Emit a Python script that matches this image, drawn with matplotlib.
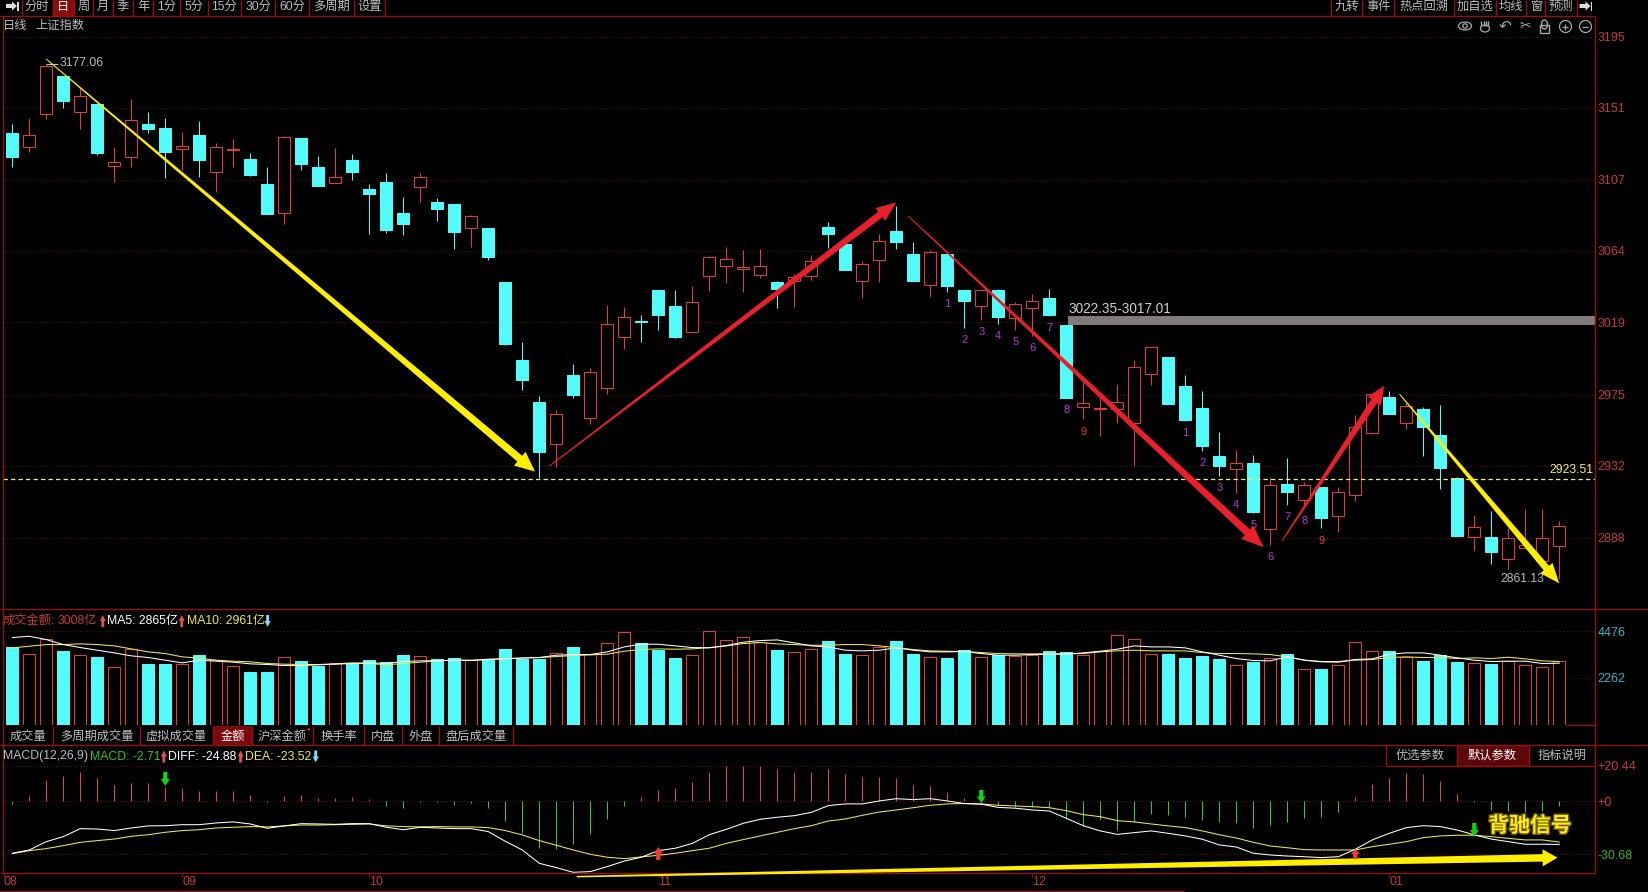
import matplotlib
matplotlib.use('Agg')
import matplotlib.pyplot as plt
import matplotlib.patheffects as pe
from matplotlib.patches import Polygon, Rectangle, Circle, Ellipse
import numpy as np

plt.rcParams['font.family'] = ['Liberation Sans', 'Noto Sans CJK SC', 'DejaVu Sans']

# daily candles
opens = [3135.8, 3127.6, 3147.8, 3170.9, 3149.1, 3153.7, 3116.0, 3121.5, 3141.5, 3139.0, 3126.2, 3134.8,
         3112.3, 3125.8, 3120.0, 3104.7, 3086.8, 3132.9, 3115.1, 3105.3, 3119.4, 3101.7, 3106.0, 3087.0,
         3103.1, 3093.7, 3092.5, 3077.8, 3077.8, 3044.7, 2996.9, 2971.1, 2945.6, 2987.7, 2961.3, 2979.7,
         3011.0, 3020.8, 3039.8, 3030.0, 3014.1, 3048.4, 3054.5, 3052.6, 3049.0, 3044.7, 3045.3, 3048.4,
         3078.4, 3068.0, 3045.3, 3058.2, 3075.9, 3061.8, 3042.8, 3061.8, 3039.8, 3030.0, 3039.8, 3022.6,
         3028.7, 3034.9, 3018.3, 2968.1, 2966.9, 2967.1, 2958.1, 2988.1, 2998.7, 2981.0, 2967.5, 2938.1,
         2930.3, 2933.8, 2893.3, 2920.9, 2911.1, 2919.1, 2901.5, 2914.4, 2952.4, 2974.2, 2958.3, 2966.9,
         2950.9, 2924.6, 2888.4, 2888.4, 2875.1, 2881.7, 2873.9, 2883.1]
closes = [3121.5, 3134.5, 3177.0, 3155.8, 3158.9, 3123.7, 3118.0, 3143.7, 3138.4, 3124.3, 3128.0, 3119.4,
          3127.4, 3126.2, 3110.2, 3086.3, 3133.5, 3117.0, 3103.5, 3108.8, 3112.1, 3098.6, 3076.5, 3080.2,
          3108.8, 3089.4, 3075.3, 3084.9, 3060.0, 3006.7, 2984.6, 2940.5, 2963.8, 2975.4, 2989.3, 3018.9,
          3023.2, 3020.2, 3024.5, 3011.0, 3032.4, 3060.0, 3058.8, 3053.9, 3054.5, 3040.4, 3047.5, 3057.5,
          3074.1, 3052.0, 3055.7, 3069.8, 3069.2, 3045.3, 3063.1, 3042.2, 3033.0, 3039.6, 3023.2, 3031.0,
          3032.8, 3024.5, 2973.6, 2970.3, 2967.3, 2971.1, 2992.4, 3004.6, 2969.9, 2960.1, 2944.2, 2932.0,
          2933.6, 2903.8, 2920.1, 2916.0, 2920.1, 2900.1, 2915.8, 2955.6, 2975.8, 2963.8, 2968.5, 2955.8,
          2930.7, 2889.0, 2894.4, 2879.2, 2887.6, 2883.5, 2887.6, 2895.0]
highs = [3141.5, 3145.4, 3178.1, 3170.9, 3163.3, 3153.7, 3127.6, 3157.0, 3148.8, 3145.2, 3136.6, 3143.3,
         3129.6, 3132.3, 3123.5, 3115.1, 3134.1, 3132.9, 3121.9, 3126.8, 3123.1, 3104.7, 3111.5, 3096.8,
         3111.5, 3096.1, 3092.5, 3085.7, 3077.8, 3044.7, 3007.9, 2974.8, 2966.2, 2994.4, 2992.0, 3030.4,
         3029.4, 3024.5, 3039.8, 3039.8, 3042.2, 3060.6, 3066.3, 3064.3, 3064.9, 3045.3, 3049.6, 3061.2,
         3081.4, 3068.0, 3057.5, 3074.1, 3091.2, 3069.2, 3064.3, 3061.8, 3039.8, 3040.4, 3040.4, 3032.4,
         3037.3, 3040.4, 3018.3, 2983.6, 2974.4, 2982.2, 2996.9, 3004.9, 2998.7, 2987.7, 2977.9, 2952.8,
         2941.7, 2938.7, 2925.4, 2936.8, 2922.1, 2919.1, 2919.1, 2963.2, 2976.0, 2977.9, 2970.3, 2967.9,
         2969.3, 2925.4, 2901.9, 2904.4, 2893.7, 2905.6, 2905.6, 2898.2]
lows = [3115.3, 3124.3, 3144.8, 3151.5, 3138.4, 3122.5, 3106.0, 3115.3, 3136.0, 3108.4, 3113.3, 3109.0,
        3099.8, 3115.3, 3109.8, 3086.3, 3080.2, 3113.3, 3103.5, 3105.3, 3107.2, 3074.1, 3074.7, 3073.5,
        3093.7, 3082.1, 3064.9, 3066.1, 3058.2, 3006.1, 2978.5, 2924.6, 2931.1, 2973.6, 2957.7, 2976.0,
        3003.6, 3007.9, 3015.3, 3010.4, 3014.1, 3039.2, 3044.1, 3038.6, 3047.1, 3028.7, 3029.4, 3045.9,
        3065.5, 3052.0, 3034.9, 3044.7, 3064.9, 3045.3, 3035.5, 3038.6, 3016.5, 3021.4, 3018.9, 3015.3,
        3011.6, 3023.8, 2973.6, 2960.7, 2950.3, 2958.1, 2931.9, 2981.6, 2969.9, 2959.5, 2941.3, 2925.8,
        2915.4, 2903.1, 2883.5, 2908.0, 2908.0, 2894.0, 2891.5, 2910.5, 2951.5, 2963.8, 2954.4, 2938.1,
        2917.8, 2889.0, 2879.8, 2871.9, 2868.8, 2881.7, 2873.9, 2862.5]

# turnover, 亿
volume = [3705, 3404, 4116, 3514, 3324, 3229, 2739, 3609, 2897, 2897, 2897, 3324, 3103, 2786, 2517, 2517,
          3261, 3039, 2802, 2976, 2976, 3087, 2992, 3324, 3309, 3166, 3213, 3087, 3134, 3609, 3134, 3134,
          3451, 3705, 3404, 3926, 4448, 3926, 3562, 3182, 3356, 4496, 4068, 4211, 3942, 3562, 3499, 3641,
          3989, 3372, 3356, 3736, 3989, 3372, 3229, 3182, 3562, 3229, 3324, 3277, 3356, 3514, 3467, 3340,
          3530, 4306, 4116, 3404, 3372, 3182, 3277, 3134, 2881, 2992, 3213, 3372, 2644, 2660, 2834, 3974,
          3546, 3514, 3229, 3039, 3324, 2992, 2976, 2897, 3071, 2881, 2739, 3040]
ma5 = [4163, 4227, 4068, 3831, 3688, 3562, 3435, 3293, 3213, 3087, 2960, 3087, 3039, 2992, 2913, 2881,
       2834, 2834, 2865, 2897, 2929, 2960, 2929, 3024, 3055, 3055, 3087, 3071, 3119, 3150, 3182, 3213,
       3324, 3356, 3356, 3483, 3720, 3847, 3847, 3768, 3688, 3673, 3783, 3942, 4021, 4052, 3910, 3768,
       3720, 3562, 3530, 3562, 3673, 3562, 3483, 3483, 3498, 3403, 3324, 3324, 3356, 3372, 3372, 3435,
       3514, 3609, 3768, 3720, 3720, 3673, 3483, 3324, 3166, 3071, 3055, 3245, 3087, 3008, 2992, 3119,
       3150, 3372, 3435, 3435, 3324, 3198, 3087, 3024, 3039, 3039, 2929, 2944]
ma10 = [3673, 3752, 3831, 3831, 3863, 3831, 3768, 3625, 3483, 3403, 3245, 3182, 3087, 3039, 3008, 2929,
        2897, 2881, 2881, 2913, 2960, 2929, 2865, 2929, 2992, 3055, 3087, 3087, 3134, 3166, 3198, 3213,
        3261, 3308, 3340, 3372, 3514, 3593, 3625, 3609, 3625, 3688, 3768, 3878, 3926, 3863, 3831, 3799,
        3799, 3831, 3831, 3768, 3688, 3593, 3530, 3514, 3498, 3451, 3403, 3388, 3388, 3388, 3388, 3403,
        3483, 3530, 3562, 3530, 3530, 3530, 3451, 3403, 3403, 3388, 3356, 3245, 3087, 3024, 3024, 3087,
        3119, 3213, 3245, 3213, 3213, 3166, 3198, 3166, 3229, 3150, 3055, 3024]

# MACD(12,26,9)
macd_hist = [-1.7, 3.1, 12.3, 14.6, 16.7, 13.3, 9.2, 10.6, 10.6, 8.5, 7.7, 6.0, 6.0, 6.2, 3.5, -0.3,
             3.1, 3.5, 1.9, 1.9, 2.5, 1.2, -2.7, -3.9, -0.3, -0.3, -1.9, -1.2, -3.9, -11.6, -18.3, -27.0,
             -27.5, -24.6, -18.9, -10.2, -2.7, 2.7, 6.5, 7.7, 11.4, 16.9, 20.4, 20.4, 20.4, 18.7, 16.9, 16.9,
             18.7, 16.0, 14.1, 14.1, 13.5, 9.4, 8.9, 5.4, 2.1, -0.4, -2.1, -3.3, -3.3, -4.0, -10.2, -14.2,
             -10.8, -16.6, -11.9, -7.3, -7.9, -9.0, -10.8, -11.9, -12.5, -15.4, -13.7, -11.9, -9.6, -9.0, -6.2, 2.5,
             10.0, 13.5, 16.4, 15.8, 11.7, 4.2, -0.4, -5.0, -5.6, -6.2, -5.6, -2.71]
diff = [-30.0, -28.1, -23.3, -20.4, -15.8, -16.0, -16.9, -15.4, -14.2, -14.1, -13.5, -13.5, -12.5, -11.9, -13.1, -15.6,
        -14.2, -12.9, -13.1, -13.3, -12.9, -12.9, -15.0, -16.4, -15.0, -15.4, -15.8, -15.8, -17.5, -23.1, -28.1, -35.8,
        -38.3, -41.0, -40.6, -37.7, -34.5, -32.3, -28.5, -27.1, -24.3, -19.3, -16.2, -12.7, -10.4, -9.2, -8.3, -6.4,
        -2.5, -1.5, -1.5, 0.2, 1.5, 1.0, 1.5, 0.2, -1.3, -1.7, -3.5, -4.0, -5.0, -5.6, -9.8, -14.1,
        -17.1, -19.1, -18.1, -17.1, -18.5, -20.0, -21.9, -25.2, -26.4, -30.0, -31.0, -31.6, -32.0, -32.5, -32.0, -27.7,
        -22.3, -18.5, -15.2, -14.1, -14.6, -16.6, -19.4, -21.8, -23.3, -24.8, -24.8, -24.88]
dea = [-30.2, -28.5, -27.3, -25.6, -23.7, -22.7, -21.8, -20.2, -19.3, -17.9, -16.9, -16.4, -15.4, -15.0, -14.6, -14.8,
       -14.2, -13.7, -13.7, -13.5, -13.3, -13.1, -14.2, -14.6, -14.8, -14.6, -14.8, -14.8, -15.2, -16.9, -19.4, -22.7,
       -25.4, -28.1, -30.6, -32.3, -33.1, -32.1, -31.2, -30.0, -28.5, -27.1, -24.3, -22.1, -20.0, -17.9, -15.8, -14.1,
       -11.4, -10.2, -8.1, -6.2, -5.0, -3.7, -2.3, -1.5, -1.3, -1.5, -2.3, -2.7, -3.1, -3.7, -5.4, -7.7,
       -8.9, -11.2, -11.9, -13.1, -14.2, -15.2, -17.1, -19.3, -21.2, -23.7, -25.8, -26.8, -27.9, -28.1, -28.1, -28.1,
       -26.2, -24.8, -23.3, -21.0, -20.0, -19.6, -19.6, -20.4, -21.4, -22.3, -22.3, -23.52]

# axis ticks
price_ticks = [3195.0, 3151.5, 3107.4, 3063.9, 3020.0, 2975.7, 2932.1, 2888.0]
price_labels = ['3195', '3151', '3107', '3064', '3019', '2975', '2932', '2888']
vol_ticks = [4476, 2262]
macd_ticks = [20.44, 0, -30.68]
macd_labels = ['+20.44', '+0', '-30.68']
month_bars = [-0.5, 10, 21, 38, 60, 81]
month_labels = ['08', '09', '10', '11', '12', '01']

# TD sequence counts under the candles: bar, price, text
td_bars = [55, 56, 57, 58, 59, 60, 61, 62, 63, 69, 70, 71, 72, 73, 74, 75, 76, 77]
td_prices = [3031.2, 3009.1, 3014.0, 3011.6, 3007.9, 3004.2, 3016.5, 2966.2, 2952.6,
             2952.0, 2933.8, 2918.4, 2908.0, 2895.8, 2876.2, 2900.7, 2898.2, 2885.8]
td_labels = ['1', '2', '3', '4', '5', '6', '7', '8', '9', '1', '2', '3', '4', '5', '6', '7', '8', '9']

CYAN = '#54fbfb'
RED = '#e03c3c'
GRID = '#5c1010'
FRAME = '#960f14'
GREY = '#bdbdbd'
W, H = 1648, 892
LW = 0.75

fig = plt.figure(figsize=(W / 100, H / 100), dpi=100, facecolor='black')


def panel(top, bottom, ylim):
    ax = fig.add_axes([3 / W, (H - bottom) / H, 1592 / W, (bottom - top) / H], facecolor='black')
    ax.set_xlim(-0.547, 93.1)
    ax.set_ylim(*ylim)
    for s in ax.spines.values():
        s.set_visible(False)
    ax.set_xticks([])
    ax.yaxis.tick_right()
    ax.tick_params(axis='y', length=0, pad=2, labelsize=9)
    ax.grid(axis='y', linestyle=(0, (1, 2)), color=GRID, linewidth=0.8)
    ax.set_axisbelow(True)
    return ax


x = np.arange(len(opens))
up = np.array(closes) >= np.array(opens)
colors = [RED if u else CYAN for u in up]

# candles
ax = panel(16, 609.3, (2844.1, 3207.7))
ax.vlines(x, lows, highs, colors=colors, linewidth=LW, zorder=2)
body_low = np.minimum(opens, closes)
body_h = np.abs(np.array(closes) - np.array(opens))
ax.bar(x, body_h, bottom=body_low, width=0.72, color=['black' if u else CYAN for u in up],
       edgecolor=colors, linewidth=LW, zorder=3)
ax.set_yticks(price_ticks, price_labels, color='#c23a3a')
ax.axhline(2923.8, color='#f4f06a', linewidth=0.9, linestyle=(0, (3.5, 2.5)), zorder=4)
ax.axhspan(3018.3, 3023.8, xmin=(62.1 + 0.547) / 93.647, color='#7f7b7b', linewidth=0, zorder=1)
for b, p, t in zip(td_bars, td_prices, td_labels):
    ax.text(b, p, t, color='#ee3340' if t == '9' else '#bb33dd', fontsize=8, ha='center', va='center', zorder=6)

# turnover
ax2 = panel(609.3, 725, (0, 5510))
ax2.bar(x, volume, width=0.72, color=['black' if u else CYAN for u in up], edgecolor=colors, linewidth=LW, zorder=3)
ax2.plot(x, ma10, color='#efe94a', linewidth=LW, zorder=4)
ax2.plot(x, ma5, color='white', linewidth=LW, zorder=5)
ax2.set_yticks(vol_ticks, [str(v) for v in vol_ticks], color='#37b6c6')

# MACD
ax3 = panel(745, 873, (-41.4, 32.5))
ax3.vlines(x, 0, macd_hist, colors=['#e04848' if m > 0 else '#2fc82f' for m in macd_hist], linewidth=LW, zorder=2)
ax3.plot(x, dea, color='#efe94a', linewidth=LW, zorder=4)
ax3.plot(x, diff, color='white', linewidth=LW, zorder=5)
ax3.set_yticks(macd_ticks, macd_labels)
for lab, c in zip(ax3.get_yticklabels(), ['#c23a3a', '#c23a3a', '#2fb52f']):
    lab.set_color(c)
ax3.set_xticks(month_bars, month_labels, color='#c23a3a', fontsize=9, ha='left')
ax3.tick_params(axis='x', length=3, width=0.8, color=FRAME, pad=-1)

# pixel overlay for the terminal chrome and the hand drawn arrows
ov = fig.add_axes([0, 0, 1, 1], facecolor='none', zorder=10)
ov.set_xlim(0, W)
ov.set_ylim(H, 0)
ov.axis('off')


def to_px(a, bar, val):
    return ov.transData.inverted().transform(a.transData.transform((bar, val)))


def taper_arrow(a, start, end, w0, w1, head_w, head_l, color):
    p0, p1 = to_px(a, *start), to_px(a, *end)
    u = (p1 - p0) / np.hypot(*(p1 - p0))
    v = np.array([-u[1], u[0]])
    neck = p1 - u * head_l
    pts = [p0 + v * w0 / 2, neck + v * w1 / 2, neck + v * head_w / 2, p1,
           neck - v * head_w / 2, neck - v * w1 / 2, p0 - v * w0 / 2]
    ov.add_patch(Polygon(pts, closed=True, facecolor=color, edgecolor='none', zorder=8))


def mini_arrow(cx, top, bottom, width, color):
    # small block arrow; tip is at "bottom"
    sgn = 1 if bottom > top else -1
    neck = bottom - sgn * abs(bottom - top) * 0.5
    s = width * 0.24
    ov.add_patch(Polygon([(cx - s, top), (cx + s, top), (cx + s, neck), (cx + width / 2, neck), (cx, bottom),
                          (cx - width / 2, neck), (cx - s, neck)], closed=True, facecolor=color,
                         edgecolor='none', zorder=9))


taper_arrow(ax, (2.0, 3181.3), (30.75, 2928.5), 1, 7.5, 18, 20, '#ffee00')
taper_arrow(ax, (31.6, 2931.9), (52.0, 3093.5), 1, 7, 16, 20, '#e8202c')
taper_arrow(ax, (52.7, 3085.1), (73.6, 2882.1), 1, 7.5, 18, 22, '#e8202c')
taper_arrow(ax, (74.7, 2886.2), (80.7, 2981.0), 1, 7, 16, 18, '#e8202c')
taper_arrow(ax, (81.6, 2976.0), (91.0, 2860.0), 1, 7, 16, 20, '#ffee00')
taper_arrow(ax3, (33.2, -43.5), (90.9, -32.5), 1.5, 7.5, 17, 15, '#ffee00')

# signal arrows in the MACD panel
for bar, top, bottom in [(9, 772, 786), (57, 790, 803), (86, 823, 837)]:
    mini_arrow(to_px(ax3, bar, 0)[0], top, bottom, 9, '#12d012')
for bar, top, bottom in [(38, 860, 847), (79, 859, 849)]:
    mini_arrow(to_px(ax3, bar, 0)[0], top, bottom, 9, '#f03a3a')


def line(x0, y0, x1, y1, c=FRAME, lw=1.0):
    ov.plot([x0, x1], [y0, y1], color=c, linewidth=lw, zorder=7, solid_capstyle='butt')


def label(px, py, s, c=GREY, size=8.8, ha='center', **kw):
    ov.text(px, py, s, color=c, fontsize=size, ha=ha, va='center', zorder=9, **kw)


# frame
line(0, 15.5, 1595, 15.5)
line(3, 15.5, 3, 873)
line(1595, 15.5, 1595, 873)
line(0, 609.3, W, 609.3)
line(1566, 725, 1595, 725)
line(0, 745, W, 745)
line(0, 873, 1595, 873)
line(0, 890.5, 1184, 890.5)

# top toolbars
tool_div = [21.7, 52.6, 73.7, 93.3, 112.9, 133.3, 153.3, 179.9, 207.6, 241.3, 275.3, 309.4, 353.6, 385.1]
tool_names = ['分时', '日', '周', '月', '季', '年', '1分', '5分', '15分', '30分', '60分', '多周期', '设置']
for d in tool_div:
    line(d, 0, d, 15.5)
ov.add_patch(Rectangle((52.6, 0), 21.1, 15.5, facecolor='#8c0c0c', edgecolor='none', zorder=6))
for a0, a1, s in zip(tool_div[:-1], tool_div[1:], tool_names):
    label((a0 + a1) / 2, 7, s, c='white' if s == '日' else GREY)

right_div = [1331.4, 1362.1, 1394.3, 1453.7, 1495.7, 1526.4, 1545.3, 1576.8]
right_names = ['九转', '事件', '热点回溯', '加自选', '均线', '窗', '预测']
for d in right_div:
    line(d, 0, d, 15.5)
for a0, a1, s in zip(right_div[:-1], right_div[1:], right_names):
    label((a0 + a1) / 2, 7, s)

for x0 in (6, 1579.5):
    ov.add_patch(Polygon([(x0, 4), (x0 + 6, 4), (x0 + 6, 1.5), (x0 + 11, 6), (x0 + 6, 10.5), (x0 + 6, 8), (x0, 8)],
                         closed=True, facecolor='#dddddd', edgecolor='none', zorder=9))
    ov.add_patch(Rectangle((x0 + 11.3, 1.5), 1.5, 9, facecolor='#dddddd', edgecolor='none', zorder=9))

label(3, 26, '日线', ha='left')
label(35, 26, '上证指数', ha='left')

# toolbox icons
ICON = '#a8a8a8'
ov.add_patch(Ellipse((1465, 26), 13, 8, fill=False, edgecolor=ICON, linewidth=0.9, zorder=9))
ov.add_patch(Circle((1465, 26), 2.2, fill=False, edgecolor=ICON, linewidth=0.9, zorder=9))
for i in range(4):
    line(1481.5 + i * 2.2, 26, 1481.5 + i * 2.2, 20.5, ICON, 1.0)
ov.add_patch(Ellipse((1485, 28.5), 9, 7, fill=False, edgecolor=ICON, linewidth=0.9, zorder=9))
label(1505, 26, '↶', c=ICON, size=11, family='DejaVu Sans')
label(1525, 26, '✂', c=ICON, size=10, family='DejaVu Sans')
ov.add_patch(Rectangle((1540, 25), 9, 7.5, fill=False, edgecolor=ICON, linewidth=1, zorder=9))
ov.add_patch(Ellipse((1544.5, 24.5), 6, 9, fill=False, edgecolor=ICON, linewidth=1, zorder=9))
for cx in (1565.5, 1585.5):
    ov.add_patch(Circle((cx, 26.5), 6, fill=False, edgecolor=ICON, linewidth=0.9, zorder=9))
    line(cx - 3, 26.5, cx + 3, 26.5, ICON, 0.9)
line(1565.5, 23.5, 1565.5, 29.5, ICON, 0.9)

# price labels
label(60, 63, '3177.06', ha='left')
line(46, 64, 58, 64, '#bdbdbd', 0.8)
label(1069, 309, '3022.35-3017.01', c='#d0d0d0', size=9.8, ha='left')
label(1593, 470, '2923.51', c='#f4f06a', ha='right')
label(1500, 579, '2861.13', ha='left')

# turnover header
label(3, 621, '成交金额:', c='#c93a3a', ha='left')
label(58, 621, '3008亿', c='#c93a3a', ha='left')
mini_arrow(102.8, 627, 615, 6, '#e05050')
label(107.5, 621, 'MA5: 2865亿', c='white', ha='left')
mini_arrow(181.7, 627, 615, 6, '#e05050')
label(186.6, 621, 'MA10: 2961亿', c='#efe94a', ha='left')
mini_arrow(267.6, 615, 627, 6, '#7fdcff')

# indicator tabs
tab_div = [53.3, 139.6, 213.3, 251.8, 313.2, 363.7, 401.6, 439.5, 513.5]
tab_names = ['成交量', '多周期成交量', '虚拟成交量', '金额', '沪深金额', '换手率', '内盘', '外盘', '盘后成交量']
ov.add_patch(Rectangle((213.3, 726), 38.5, 19, facecolor='#7a0a0a', edgecolor='none', zorder=6))
for d in tab_div:
    line(d, 726, d, 745)
for a0, a1, s in zip([3] + tab_div[:-1], tab_div, tab_names):
    label((a0 + a1) / 2, 737, s, c='white' if s == '金额' else GREY)
ov.add_patch(Circle((308.7, 729.5), 1.3, facecolor='#f03030', edgecolor='none', zorder=9))

# MACD header
label(3, 756.5, 'MACD(12,26,9)', ha='left')
label(90.5, 756.5, 'MACD: -2.71', c='#2fc82f', ha='left')
mini_arrow(163.8, 762.5, 750.5, 6, '#e05050')
label(168.4, 756.5, 'DIFF: -24.88', c='white', ha='left')
mini_arrow(240.6, 762.5, 750.5, 6, '#e05050')
label(245.2, 756.5, 'DEA: -23.52', c='#efe94a', ha='left')
mini_arrow(315.7, 750.5, 762.5, 6, '#7fdcff')

# parameter buttons
ov.add_patch(Rectangle((1457.2, 745), 72, 20.7, facecolor='#5c0808', edgecolor='none', zorder=6))
line(1385.6, 745, 1385.6, 765.7)
line(1385.6, 765.7, 1595, 765.7)
line(1457.2, 745, 1457.2, 765.7)
line(1529.2, 745, 1529.2, 765.7)
label(1420.5, 756, '优选参数')
label(1492.2, 756, '默认参数', c='white')
label(1561.7, 756, '指标说明')

label(1530, 826, '背驰信号', c='#ffe81a', size=15, fontweight='bold',
      path_effects=[pe.withStroke(linewidth=2, foreground='#6b5a00')])

fig.savefig('out.png', dpi=100, facecolor='black')
